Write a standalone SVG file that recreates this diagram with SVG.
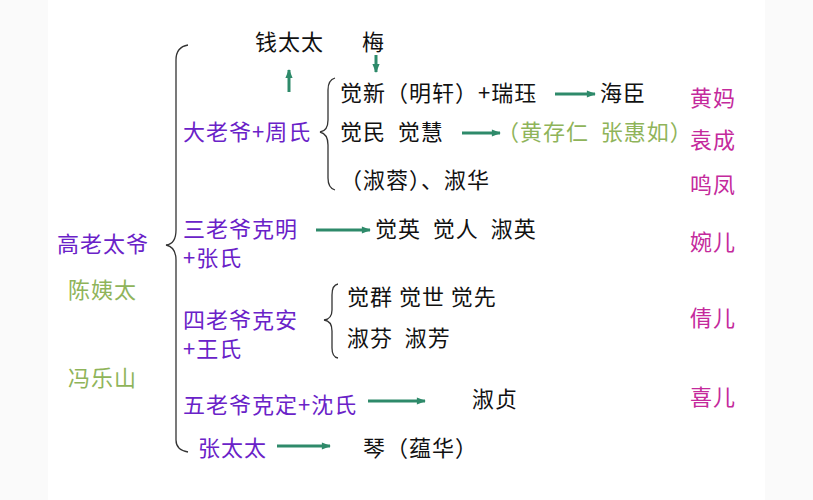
<svg xmlns="http://www.w3.org/2000/svg" width="813" height="500" viewBox="0 0 813 500">
<defs>
<style>
text{font-family:"Noto Sans CJK SC","Noto Sans",sans-serif;font-size:22px;letter-spacing:1px;fill:#111;white-space:pre}
.p{fill:#6a22c8}.g{fill:#8fb45a}.m{fill:#c42a9c}
.br{fill:none;stroke:#333;stroke-width:1.3}
.ar{stroke:#2e8a6a;stroke-width:3;fill:none;marker-end:url(#a)}
</style>
<marker id="a" viewBox="0 0 10 10" refX="9" refY="5" markerWidth="12" markerHeight="9" orient="auto" markerUnits="userSpaceOnUse"><path d="M0 1L10 5L0 9z" fill="#2e8a6a"/></marker>
</defs>
<rect width="813" height="500" fill="#fafafa"/>
<rect x="48" y="0" width="717" height="500" fill="#fff"/>
<g id="connectors">
<path class="br" d="M188 45Q176 47 176 60V230Q176 244 166 245Q176 247 176 260V440Q176 450 188 452"/>
<path class="br" d="M335 78Q328 80 328 90V120Q328 131 320 132Q328 134 328 145V178Q328 188 335 190"/>
<path class="br" d="M338 284Q332 285 332 295V310Q332 319 324 320Q332 321 332 331V348Q332 357 338 358"/>
<path class="ar" stroke-width="5" d="M289 92V70"/>
<path class="ar" stroke-width="2" d="M376 55V72"/>
<path class="ar" d="M555 94H595"/>
<path class="ar" d="M462 133H500"/>
<path class="ar" d="M316 230H370"/>
<path class="ar" d="M368 401H425"/>
<path class="ar" d="M277 446H330"/>
</g>
<g id="root"><text x="57" y="252" class="p" font-size="23">高老太爷</text></g>
<g id="chen"><text x="68" y="298" class="g">陈姨太</text></g>
<g id="feng"><text x="68" y="386" class="g">冯乐山</text></g>
<g id="qian"><text x="255" y="50">钱太太</text></g>
<g id="mei"><text x="362" y="50">梅</text></g>
<g id="da"><text x="183" y="140" class="p">大老爷+周氏</text></g>
<g id="juexin"><text x="340" y="101">觉新（明轩）+瑞珏</text></g>
<g id="haichen"><text x="600" y="101">海臣</text></g>
<g id="juemin"><text x="340" y="140" xml:space="preserve">觉民  觉慧</text></g>
<g id="huang"><text x="497" y="140" class="g" xml:space="preserve">（黄存仁  张惠如）</text></g>
<g id="shurong"><text x="340" y="188">（淑蓉）、淑华</text></g>
<g id="san"><text x="183" y="237" class="p">三老爷克明</text><text x="183" y="266" class="p">+张氏</text></g>
<g id="jueying"><text x="375" y="237" xml:space="preserve">觉英  觉人  淑英</text></g>
<g id="si"><text x="183" y="328" class="p">四老爷克安</text><text x="183" y="357" class="p">+王氏</text></g>
<g id="juequn"><text x="347" y="305" xml:space="preserve">觉群 觉世 觉先</text></g>
<g id="shufen"><text x="347" y="346" xml:space="preserve">淑芬  淑芳</text></g>
<g id="wu"><text x="183" y="413" class="p">五老爷克定+沈氏</text></g>
<g id="shuzhen"><text x="472" y="407">淑贞</text></g>
<g id="zhang"><text x="198" y="456" class="p">张太太</text></g>
<g id="qin"><text x="363" y="456">琴（蕴华）</text></g>
<g id="servants">
<text x="690" y="106" class="m">黄妈</text>
<text x="690" y="148" class="m">袁成</text>
<text x="690" y="193" class="m">鸣凤</text>
<text x="690" y="250" class="m">婉儿</text>
<text x="690" y="326" class="m">倩儿</text>
<text x="690" y="405" class="m">喜儿</text>
</g>
</svg>
